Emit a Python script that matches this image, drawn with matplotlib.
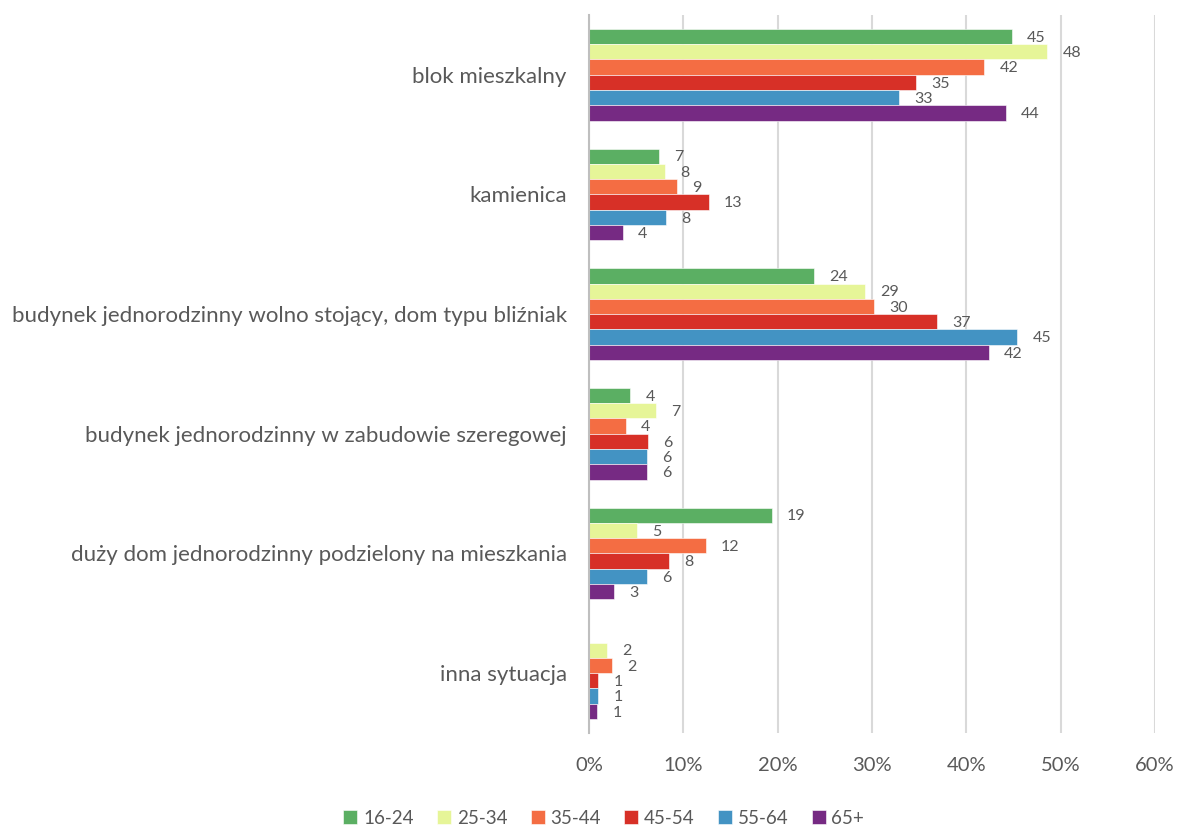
import matplotlib
matplotlib.use("Agg")
import matplotlib.pyplot as plt
import numpy as np

plt.rcParams['font.family'] = ['Lato', 'DejaVu Sans']

categories = [
    "blok mieszkalny",
    "kamienica",
    "budynek jednorodzinny wolno stojący, dom typu bliźniak",
    "budynek jednorodzinny w zabudowie szeregowej",
    "duży dom jednorodzinny podzielony na mieszkania",
    "inna sytuacja",
]
groups = ["16-24", "25-34", "35-44", "45-54", "55-64", "65+"]
colors = ["#5BAF63", "#E6F598", "#F46D43", "#D73027", "#4393C3", "#762A83"]

# bar lengths in %, per age group (order of categories)
v_16_24 = [44.8, 7.4, 23.9, 4.4, 19.4, 0.0]
v_25_34 = [48.6, 8.1, 29.3, 7.1, 5.1, 1.9]
v_35_44 = [41.9, 9.3, 30.2, 3.9, 12.4, 2.4]
v_45_54 = [34.7, 12.7, 36.9, 6.3, 8.5, 1.0]
v_55_64 = [32.9, 8.2, 45.4, 6.2, 6.2, 1.0]
v_65 = [44.2, 3.6, 42.4, 6.2, 2.7, 0.9]
series = [v_16_24, v_25_34, v_35_44, v_45_54, v_55_64, v_65]

# printed labels
l_16_24 = [45, 7, 24, 4, 19, None]
l_25_34 = [48, 8, 29, 7, 5, 2]
l_35_44 = [42, 9, 30, 4, 12, 2]
l_45_54 = [35, 13, 37, 6, 8, 1]
l_55_64 = [33, 8, 45, 6, 6, 1]
l_65 = [44, 4, 42, 6, 3, 1]
labels = [l_16_24, l_25_34, l_35_44, l_45_54, l_55_64, l_65]

gray = "#595959"
fig = plt.figure(figsize=(11.77, 8.27), dpi=100)
ax = fig.add_axes([0.5004, 0.1137, 0.4809, 0.8682])

n = len(groups)
bh = 0.128
y = np.arange(len(categories))
for i, (vals, labs, c, g) in enumerate(zip(series, labels, colors, groups)):
    pos = y - (n - 1) / 2 * bh + i * bh
    ax.barh(pos, [v / 100 for v in vals], height=bh, color=c, label=g,
            edgecolor="white", linewidth=0.4)
    for p, v, l in zip(pos, vals, labs):
        if l is None:
            continue
        ax.text(v / 100 + 0.016, p + 0.01, str(l), va="center", ha="left",
                fontsize=11.5, color=gray)

ax.set_xlim(0, 0.6)
ax.set_ylim(len(categories) - 0.5, -0.5)
ax.set_xticks(np.arange(0, 0.61, 0.1))
ax.set_xticklabels([f"{int(round(t * 100))}%" for t in np.arange(0, 0.61, 0.1)])
ax.set_yticks(y)
ax.set_yticklabels(categories)
ax.tick_params(axis="x", length=0, labelsize=14.5, colors=gray, pad=17)
ax.tick_params(axis="y", length=0, labelsize=16, colors=gray, pad=16)
ax.grid(axis="x", color="#D9D9D9", linewidth=1.5)
ax.set_axisbelow(True)
for s in ["top", "right", "bottom"]:
    ax.spines[s].set_visible(False)
ax.spines["left"].set_color("#BFBFBF")
ax.spines["left"].set_linewidth(1.5)

fig.legend(loc="lower center", bbox_to_anchor=(0.513, -0.02), ncol=6, frameon=False,
           fontsize=13.5, labelcolor=gray, handlelength=0.75, handleheight=0.75,
           handletextpad=0.3, columnspacing=1.25)

fig.savefig("out.png", dpi=100)
